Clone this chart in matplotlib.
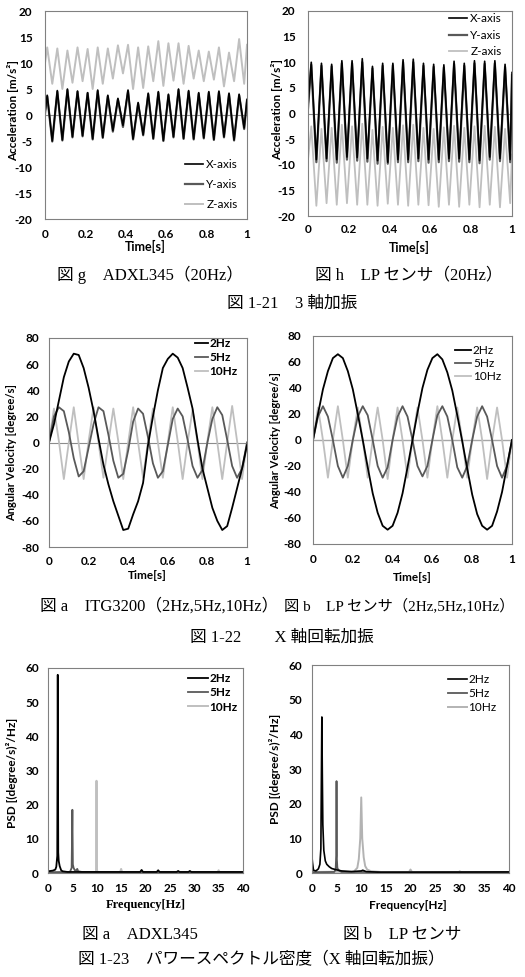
import numpy as np
import matplotlib.pyplot as plt

plt.rcParams['font.family'] = ['Lato', 'DejaVu Sans']
plt.rcParams['axes.unicode_minus'] = False

# ---------------- data ----------------
# fig g : ADXL345, 3-axis shaking at 20Hz (peak / trough of each cycle)
t_adxl = np.concatenate([[0], np.arange(0.011, 1, 0.025), [1]])
adxl_x = [0.5, 3.8, -5.0, 4.7, -4.8, 5.0, -4.2, 4.6, -4.0, 4.3, -4.6, 4.8, -4.3, 3.8, -3.0,
          3.2, -2.0, 4.8, -4.6, 2.4, -3.8, 4.2, -4.5, 4.5, -4.9, 4.0, -4.2, 5.0, -4.5, 4.7,
          -4.6, 4.3, -4.4, 4.5, -4.7, 4.6, -4.2, 4.2, -4.8, 4.0, -2.5, 3.0]
adxl_y = [0.3, 3.6, -5.1, 4.5, -4.9, 4.8, -4.3, 4.5, -4.1, 4.2, -4.7, 4.6, -4.4, 3.6, -3.2,
          3.0, -2.3, 4.6, -4.7, 2.2, -3.9, 4.0, -4.6, 4.3, -5.0, 3.8, -4.3, 4.8, -4.6, 4.5,
          -4.7, 4.1, -4.5, 4.3, -4.8, 4.4, -4.3, 4.0, -4.9, 3.8, -2.7, 2.8]
adxl_z = [10.0, 13.0, 6.0, 12.8, 5.0, 12.4, 6.2, 13.0, 6.5, 12.7, 5.0, 13.0, 6.0, 12.8, 7.0,
          13.4, 8.0, 13.5, 5.0, 13.0, 5.2, 13.2, 6.5, 14.2, 5.6, 13.8, 6.6, 13.8, 6.0, 13.3,
          7.0, 12.4, 6.5, 12.2, 6.8, 13.0, 5.5, 12.0, 6.5, 14.6, 6.0, 13.5]

# fig h : LP sensor, 3-axis shaking at 20Hz
t_lp = np.concatenate([[0], np.arange(0.016, 1, 0.025), [1]])
lp_x = [1.5, 10.0, -9.0, 9.8, -8.8, 9.6, -9.0, 10.3, -8.5, 10.3, -8.6, 10.7, -8.8, 9.2, -9.2,
        9.8, -9.5, 9.8, -9.0, 10.5, -9.0, 10.6, -8.8, 9.8, -9.0, 9.6, -9.0, 9.5, -8.8, 10.2,
        -8.8, 9.8, -9.0, 10.3, -9.2, 10.2, -8.5, 10.3, -8.8, 9.6, -9.0, 8.0]
lp_y = [1.0, 9.5, -9.5, 9.3, -9.3, 9.2, -9.6, 9.8, -9.0, 9.8, -9.2, 10.0, -9.4, 8.8, -9.8,
        9.3, -9.8, 9.4, -9.5, 10.0, -9.5, 10.0, -9.3, 9.3, -9.6, 9.1, -9.5, 9.0, -9.3, 9.7,
        -9.4, 9.3, -9.5, 9.8, -9.7, 9.7, -9.0, 9.8, -9.3, 9.1, -9.5, 7.5]
lp_z = [-9.0, -2.5, -18.0, -3.0, -17.5, -2.8, -17.8, -2.2, -17.5, -2.5, -17.8, -2.0, -17.8,
        -3.2, -18.0, -2.6, -17.6, -2.8, -17.8, -2.3, -18.0, -2.2, -17.8, -2.8, -17.9, -3.0,
        -18.2, -2.7, -17.8, -2.4, -18.2, -2.8, -17.8, -2.5, -18.3, -2.4, -17.8, -2.6, -18.3,
        -3.0, -17.5, -8.0]

# fig 1-22 : X-axis rotation, angular velocity [degree/s]
t_rot = np.arange(0, 1.0001, 0.025)
itg_2hz = [0, 14, 32, 50, 62, 68, 67, 57, 42, 24, 3, -17, -32, -45, -56, -67, -66, -55, -45, -31,
           -2, 20, 40, 57, 64, 68, 65, 57, 42, 26, 2, -20, -35, -50, -60, -67, -64, -50, -35, -20, -2]
itg_5hz = [0, 20, 27, 24, 8, -12, -26, -22, -4, 14, 27, 24, 6, -14, -27, -24, -6, 16, 26, 22,
           4, -16, -27, -22, -2, 18, 26, 20, 2, -18, -27, -21, 0, 18, 27, 21, 2, -18, -27, -20, 0]
itg_10hz = [0, 26, 1, -28, 0, 27, -1, -28, 1, 27, 0, -27, 0, 26, 1, -28, 0, 27, 0, -27,
            1, 26, 0, -27, 0, 27, 1, -28, 0, 25, 0, -28, 1, 27, 0, -28, 0, 28, 1, -28, 0]
lpr_2hz = [0, 20, 39, 53, 63, 66, 63, 53, 39, 20, 0, -21, -41, -56, -66, -69, -66, -56, -41, -21,
           0, 21, 40, 54, 63, 66, 62, 52, 38, 19, -1, -22, -42, -57, -66, -69, -66, -55, -40, -20, 0]
lpr_5hz = [0, 18, 26, 18, 0, -20, -29, -20, 0, 18, 26, 19, 0, -20, -29, -21, 0, 18, 26, 18,
           0, -20, -28, -20, 0, 19, 26, 18, 0, -21, -29, -20, 0, 18, 26, 18, 0, -20, -29, -20, 0]
lpr_10hz = [0, 25, 0, -29, 0, 26, 0, -29, 0, 25, 0, -29, 0, 25, 0, -30, 0, 25, 0, -29,
            0, 25, 0, -29, 0, 26, 0, -29, 0, 25, 0, -29, 0, 25, 0, -30, 0, 25, 0, -29, 0]

# fig 1-23 : power spectral density
psd_a_f2 = [0, 0.5, 1.0, 1.5, 1.7, 1.9, 2.0, 2.1, 2.2, 2.4, 2.7, 3.0, 4.0, 10.0, 18.9, 19.2, 19.5,
            22.3, 22.6, 22.9, 26.4, 26.7, 27.0, 28.8, 29.1, 29.4, 40.0]
psd_a_p2 = [0.5, 0.6, 0.7, 1.0, 1.8, 5.0, 58.0, 6.0, 3.5, 2.0, 0.8, 0.5, 0.3, 0.3, 0.3, 0.9, 0.3,
            0.3, 0.8, 0.3, 0.3, 0.6, 0.3, 0.3, 0.6, 0.3, 0.3]
psd_a_f5 = [0, 4.5, 4.85, 5.0, 5.1, 5.25, 5.5, 5.8, 6.0, 6.2, 7.0, 40.0]
psd_a_p5 = [0.2, 0.3, 1.5, 18.5, 2.5, 1.5, 0.8, 0.8, 1.2, 0.5, 0.3, 0.2]
psd_a_f10 = [0, 9.85, 9.95, 10.05, 10.15, 14.8, 15.0, 15.2, 34.8, 35.0, 35.2, 40.0]
psd_a_p10 = [0.3, 0.3, 27.0, 1.0, 0.3, 0.3, 1.2, 0.3, 0.3, 0.8, 0.3, 0.3]

psd_b_f2 = [0, 0.1, 0.3, 0.8, 1.3, 1.6, 1.8, 2.0, 2.1, 2.2, 2.4, 2.7, 3.0, 3.5, 4.0, 5.0, 6.0,
            8.0, 10.0, 10.3, 11.0, 14.0, 40.0]
psd_b_p2 = [4.5, 3.0, 0.8, 0.6, 1.2, 2.5, 7.0, 45.0, 28.0, 14.0, 6.5, 3.5, 2.5, 1.8, 1.3, 0.9,
            0.6, 0.4, 0.6, 0.8, 0.4, 0.2, 0.3]
psd_b_f5 = [0, 4.5, 4.8, 4.92, 4.98, 5.05, 5.15, 5.3, 5.6, 6.0, 40.0]
psd_b_p5 = [0.2, 0.3, 1.0, 5.0, 26.5, 4.0, 1.5, 1.0, 0.6, 0.3, 0.2]
psd_b_f10 = [0, 8.5, 9.2, 9.5, 9.8, 10.0, 10.2, 10.5, 10.8, 11.2, 12.0, 14.0, 19.7, 20.0, 20.3,
             29.8, 30.0, 30.2, 40.0]
psd_b_p10 = [0.3, 0.4, 1.5, 4.0, 10.0, 21.8, 10.0, 4.5, 2.0, 1.0, 0.5, 0.3, 0.3, 1.0, 0.3,
             0.3, 0.5, 0.3, 0.3]

time_ticks = [0, 0.2, 0.4, 0.6, 0.8, 1]
time_labels = ['0', '0.2', '0.4', '0.6', '0.8', '1']
freq_ticks = [0, 5, 10, 15, 20, 25, 30, 35, 40]

BLACK = '#000000'
DARK = '#595959'
LIGHT = '#bfbfbf'
CAPTION_FONT = ['Liberation Serif', 'Noto Sans CJK JP']
TICK_SIZE = 8.5

W, H = 525, 977
fig = plt.figure(figsize=(W / 100, H / 100), dpi=100)


def add_axes(x0, y0, x1, y1):
    # pixel box -> figure fraction
    return fig.add_axes([x0 / W, 1 - y1 / H, (x1 - x0) / W, (y1 - y0) / H])


def style(ax, xlim, ylim, xticks, xlabels, yticks, xpad, ypad):
    ax.set_xlim(xlim)
    ax.set_ylim(ylim)
    ax.set_xticks(xticks)
    ax.set_xticklabels(xlabels)
    ax.set_yticks(yticks)
    ax.tick_params(axis='x', length=0, pad=xpad, labelsize=TICK_SIZE)
    ax.tick_params(axis='y', length=0, pad=ypad, labelsize=TICK_SIZE)
    for lab in ax.get_xticklabels() + ax.get_yticklabels():
        lab.set_fontweight('bold')
    for s in ax.spines.values():
        s.set_color('#808080')
        s.set_linewidth(0.8)


def labels(ax, xl, yl, xpos, ypos, size=8.5, ysize=None, xfont=None):
    ax.set_xlabel(xl, fontsize=size, fontweight='bold', family=xfont)
    ax.set_ylabel(yl, fontsize=ysize or size, fontweight='bold')
    ax.xaxis.set_label_coords(*xpos)
    ax.yaxis.set_label_coords(*ypos)
    ax.xaxis.label.set_va('center')
    ax.yaxis.label.set_va('center')


def legend(ax, handles, names, x, y, hl, spacing, bold, gap=0.3):
    ax.legend(handles, names, loc='upper left', bbox_to_anchor=(x, y), frameon=False,
              borderpad=0, borderaxespad=0, handlelength=hl, handletextpad=gap,
              labelspacing=spacing,
              prop={'weight': 'bold' if bold else 'normal', 'size': 8.5})


# ---- fig g ----
ax = add_axes(45, 11, 247, 219)
ax.axhline(0, color='#8c8c8c', lw=0.8, zorder=1)
lz, = ax.plot(t_adxl, adxl_z, color=LIGHT, lw=1.4)
ly, = ax.plot(t_adxl, adxl_y, color=DARK, lw=1.6)
lx, = ax.plot(t_adxl, adxl_x, color=BLACK, lw=1.2)
style(ax, (0, 1), (-20, 20), time_ticks, time_labels, range(-20, 21, 5), 7, 9)
labels(ax, 'Time[s]', 'Acceleration [m/s²]', (0.495, -0.13), (-0.158, 0.52), 9, 8.5)
legend(ax, [lx, ly, lz], ['X-axis', 'Y-axis', 'Z-axis'], 0.693, 0.29, 1.5, 0.78, False)

# ---- fig h ----
ax = add_axes(308, 11, 512, 216)
ax.axhline(0, color='#8c8c8c', lw=0.8, zorder=1)
lz, = ax.plot(t_lp, lp_z, color=LIGHT, lw=1.3)
ly, = ax.plot(t_lp, lp_y, color=DARK, lw=1.6)
lx, = ax.plot(t_lp, lp_x, color=BLACK, lw=1.2)
style(ax, (0, 1), (-20, 20), time_ticks, time_labels, range(-20, 21, 5), 6, 9)
labels(ax, 'Time[s]', 'Acceleration [m/s²]', (0.4975, -0.156), (-0.152, 0.52), 9, 8.5)
legend(ax, [lx, ly, lz], ['X-axis', 'Y-axis', 'Z-axis'], 0.691, 0.988, 1.5, 0.46, False)

# ---- fig 1-22 a ----
ax = add_axes(49, 338, 247, 547)
ax.axhline(0, color='#8c8c8c', lw=0.8, zorder=1)
l10, = ax.plot(t_rot, itg_10hz, color=LIGHT, lw=1.3)
l5, = ax.plot(t_rot, itg_5hz, color=DARK, lw=1.3)
l2, = ax.plot(t_rot, itg_2hz, color=BLACK, lw=1.3)
style(ax, (0, 1), (-80, 80), time_ticks, time_labels, range(-80, 81, 20), 6.5, 7)
labels(ax, 'Time[s]', 'Angular Velocity [degree/s]', (0.497, -0.134), (-0.187, 0.45), 8.5, 8)
legend(ax, [l2, l5, l10], ['2Hz', '5Hz', '10Hz'], 0.737, 1.0, 1.1, 0.25, True, 0.1)

# ---- fig 1-22 b ----
ax = add_axes(313, 336, 512, 544)
ax.axhline(0, color='#a6a6a6', lw=1.0, zorder=1)
l10, = ax.plot(t_rot, lpr_10hz, color=LIGHT, lw=1.3)
l5, = ax.plot(t_rot, lpr_5hz, color=DARK, lw=1.3)
l2, = ax.plot(t_rot, lpr_2hz, color=BLACK, lw=1.3)
style(ax, (0, 1), (-80, 80), time_ticks, time_labels, range(-80, 81, 20), 7.5, 8.5)
labels(ax, 'Time[s]', 'Angular Velocity [degree/s]', (0.497, -0.159), (-0.19, 0.495), 8.5, 8)
legend(ax, [l2, l5, l10], ['2Hz', '5Hz', '10Hz'], 0.712, 0.955, 1.4, 0.17, False, 0.15)

# ---- fig 1-23 a ----
ax = add_axes(48, 668, 243, 873)
l10, = ax.plot(psd_a_f10, psd_a_p10, color=LIGHT, lw=1.4)
l5, = ax.plot(psd_a_f5, psd_a_p5, color=DARK, lw=1.3)
l2, = ax.plot(psd_a_f2, psd_a_p2, color=BLACK, lw=1.3)
style(ax, (0, 40), (0, 60), freq_ticks, [str(f) for f in freq_ticks], range(0, 61, 10), 7.5, 6.5)
labels(ax, 'Frequency[Hz]', 'PSD [(degree/s)²/Hz]', (0.50, -0.156), (-0.185, 0.49), 9, 8.5,
       xfont='Liberation Serif')
legend(ax, [l2, l5, l10], ['2Hz', '5Hz', '10Hz'], 0.718, 0.977, 1.7, 0.29, True, 0.1)

# ---- fig 1-23 b ----
ax = add_axes(312, 665, 509, 873)
l10, = ax.plot(psd_b_f10, psd_b_p10, color='#b3b3b3', lw=1.4)
l5, = ax.plot(psd_b_f5, psd_b_p5, color=DARK, lw=1.3)
l2, = ax.plot(psd_b_f2, psd_b_p2, color=BLACK, lw=1.2)
style(ax, (0, 40), (0, 60), freq_ticks, [str(f) for f in freq_ticks], range(0, 61, 10), 7.5, 7)
labels(ax, 'Frequency[Hz]', 'PSD [(degree/s)²/Hz]', (0.485, -0.154), (-0.188, 0.50), 8.5, 8.5)
legend(ax, [l2, l5, l10], ['2Hz', '5Hz', '10Hz'], 0.689, 0.955, 1.65, 0.25, False, 0.1)

# ---- captions ----
captions = [
    (57, 275, '図 g　ADXL345（20Hz）', 12),
    (315, 275, '図 h　LP センサ（20Hz）', 12),
    (227, 304, '図 1-21　3 軸加振', 12),
    (40, 606, '図 a　ITG3200（2Hz,5Hz,10Hz）', 12),
    (284, 606, '図 b　LP センサ（2Hz,5Hz,10Hz）', 11),
    (190, 638, '図 1-22　　X 軸回転加振', 12),
    (82, 935, '図 a　ADXL345', 12),
    (343, 935, '図 b　LP センサ', 12),
    (78, 960, '図 1-23　パワースペクトル密度（X 軸回転加振）', 12),
]
for x, y, s, size in captions:
    fig.text(x / W, 1 - y / H, s, ha='left', va='center', fontsize=size, family=CAPTION_FONT)

fig.savefig('out.png', dpi=100)
